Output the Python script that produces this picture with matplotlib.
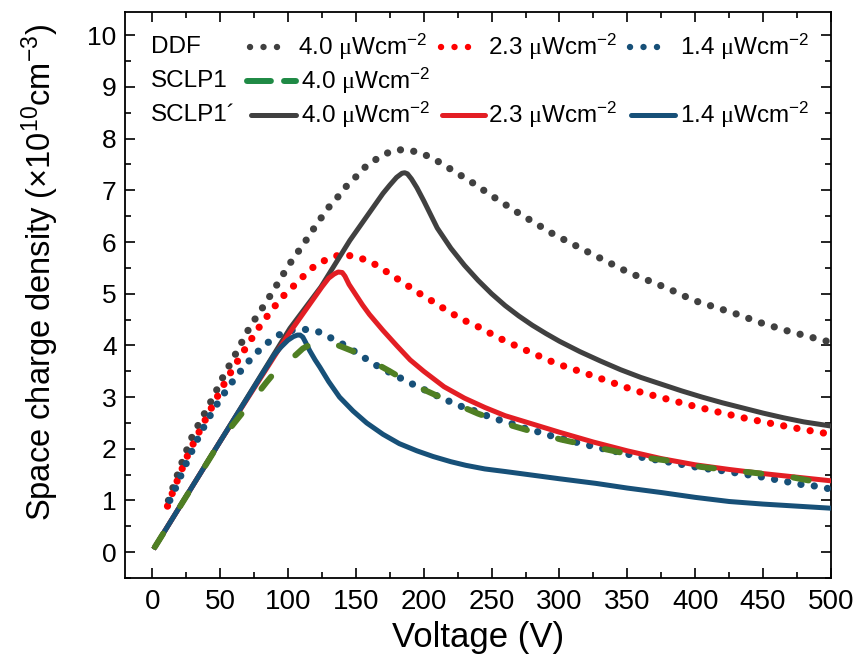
import matplotlib
matplotlib.use("Agg")
import matplotlib.pyplot as plt
from matplotlib.ticker import MultipleLocator

# --- data ---
ddf40_x = [12, 18, 24, 30, 37.5, 45, 52, 62, 72, 83.6, 94.6, 100, 112, 118, 124, 130, 137, 144,
           152, 159, 167, 176, 185, 196, 206, 215, 224, 233, 242, 251, 268, 295, 323, 351, 380,
           399, 429, 448, 468, 488, 500]
ddf40_y = [1.0, 1.45, 1.88, 2.27, 2.63, 3.0, 3.38, 3.86, 4.36, 4.82, 5.29, 5.53, 5.98, 6.22, 6.45,
           6.67, 6.88, 7.11, 7.31, 7.51, 7.63, 7.76, 7.79, 7.74, 7.63, 7.49, 7.34, 7.2, 7.04, 6.88,
           6.59, 6.16, 5.78, 5.41, 5.1, 4.87, 4.62, 4.44, 4.28, 4.14, 4.06]

ddf23_x = [11.3, 15, 18.6, 26.7, 36, 45.6, 55.4, 66.7, 78.2, 84.3, 90.4, 97.5, 105.4, 113, 120.6,
           130, 140, 149.8, 159.6, 168.9, 177.5, 186.3, 195.3, 204.2, 213.2, 222, 231, 241, 250,
           259.6, 278.4, 297.5, 317, 336.8, 356.4, 376.5, 396.8, 417, 437, 457.8, 478, 500]
ddf23_y = [0.89, 1.15, 1.39, 1.91, 2.4, 2.89, 3.37, 3.86, 4.33, 4.55, 4.76, 4.98, 5.18, 5.38, 5.56,
           5.68, 5.77, 5.71, 5.64, 5.49, 5.34, 5.19, 5.03, 4.89, 4.74, 4.6, 4.47, 4.35, 4.22, 4.09,
           3.87, 3.65, 3.48, 3.3, 3.12, 2.98, 2.84, 2.71, 2.59, 2.48, 2.38, 2.28]

ddf14_x = [13, 17.6, 21.8, 26, 30.4, 34.8, 39.7, 45, 50.7, 56.6, 63.2, 70, 77.4, 85, 93, 103, 112.5,
           122.8, 132, 141.4, 150.5, 159.3, 169, 178, 186.8, 197, 205.9, 215.4, 225.2, 235, 244.3,
           254, 264.5, 274, 284, 293.9, 324, 334, 365, 375, 406, 416.4, 450, 478, 488, 500]
ddf14_y = [1.0, 1.26, 1.52, 1.77, 2.02, 2.26, 2.5, 2.75, 2.98, 3.21, 3.44, 3.66, 3.87, 4.05, 4.2,
           4.29, 4.31, 4.26, 4.14, 4.01, 3.86, 3.71, 3.55, 3.44, 3.31, 3.19, 3.07, 2.96, 2.84, 2.76,
           2.66, 2.57, 2.49, 2.4, 2.33, 2.25, 2.05, 1.99, 1.81, 1.77, 1.62, 1.59, 1.45, 1.31, 1.28,
           1.22]

sclp40_x = [2, 50, 101.5, 124.3, 145.6, 170, 175, 180, 184, 186, 188, 191, 195, 200, 210, 220,
            230, 240, 250, 260, 270, 280, 290, 300, 315, 330, 345, 360, 375, 390, 405, 420, 435,
            450, 465, 480, 500]
sclp40_y = [0.1, 2.14, 4.33, 5.13, 6.03, 6.94, 7.1, 7.25, 7.33, 7.34, 7.32, 7.22, 7.05, 6.8,
            6.27, 5.88, 5.55, 5.26, 5.0, 4.77, 4.57, 4.39, 4.23, 4.08, 3.88, 3.7, 3.53, 3.38,
            3.25, 3.12, 3.0, 2.89, 2.79, 2.69, 2.6, 2.52, 2.44]

sclp23_x = [2, 50, 100, 125, 130, 134, 137, 140, 142, 145, 150, 155, 160, 170, 180, 190, 200,
            215, 230, 245, 260, 280, 300, 325, 350, 375, 400, 425, 450, 475, 500]
sclp23_y = [0.1, 2.14, 4.2, 5.13, 5.3, 5.38, 5.42, 5.41, 5.34, 5.18, 4.98, 4.78, 4.6, 4.29, 4.0,
            3.72, 3.5, 3.2, 2.98, 2.8, 2.64, 2.48, 2.32, 2.13, 1.96, 1.81, 1.69, 1.6, 1.52, 1.45,
            1.38]

sclp14_x = [2, 50, 90, 95, 100, 104, 107, 109, 111, 113, 116, 120, 123.5, 130, 138, 148, 158, 170,
            182, 195, 207, 220, 231, 245, 260, 280, 300, 327, 350, 376, 400, 425, 450, 475, 500]
sclp14_y = [0.1, 2.14, 3.82, 3.97, 4.1, 4.17, 4.2, 4.2, 4.16, 4.06, 3.9, 3.72, 3.58, 3.3, 3.0,
            2.73, 2.5, 2.28, 2.1, 1.96, 1.85, 1.75, 1.68, 1.61, 1.56, 1.49, 1.42, 1.33, 1.24, 1.15,
            1.06, 0.98, 0.93, 0.89, 0.85]

sclp1_x = [2, 28, 52, 73, 84.3, 90, 100, 106, 111, 116, 122, 128, 134, 140, 150.5, 162.7, 175,
           188.5, 202, 218, 240, 260.8, 279, 301, 320, 343, 362.5, 386, 404, 469, 489, 500]
sclp1_y = [0.1, 1.2, 2.22, 2.91, 3.29, 3.47, 3.69, 3.82, 3.94, 4.01, 4.05, 4.05, 4.03, 3.97, 3.86,
           3.68, 3.5, 3.29, 3.12, 2.93, 2.68, 2.48, 2.34, 2.18, 2.07, 1.94, 1.83, 1.75, 1.65, 1.46,
           1.36, 1.32]

label_rows = ["DDF", "SCLP1", "SCLP1\u00b4"]
intensities = ["4.0", "2.3", "1.4"]

grey = "#404040"
red_dot = "#ff0000"
red = "#e31e24"
blue = "#175078"
green = "#4f7f23"
green_leg = "#1f8a45"

plt.rcParams["font.family"] = ["Liberation Sans", "DejaVu Sans"]
plt.rcParams["mathtext.fontset"] = "custom"
plt.rcParams["mathtext.rm"] = "Liberation Serif"
plt.rcParams["mathtext.sf"] = "Liberation Sans"
plt.rcParams["mathtext.default"] = "sf"

fig = plt.figure(figsize=(8.57, 6.70), dpi=100)
ax = fig.add_axes([125 / 857, 1 - 578 / 670, 706 / 857, 566 / 670])

dot_lw = 5.2
dots = (0, (0.01, 1.85))
line_lw = 3.6

ax.plot(ddf40_x, ddf40_y, color=grey, lw=dot_lw, ls=dots, dash_capstyle="round", zorder=2)
ax.plot(ddf23_x, ddf23_y, color=red_dot, lw=dot_lw, ls=dots, dash_capstyle="round", zorder=3)
ax.plot(ddf14_x, ddf14_y, color=blue, lw=dot_lw, ls=dots, dash_capstyle="round", zorder=4)
ax.plot(sclp40_x, sclp40_y, color=grey, lw=line_lw, solid_joinstyle="round", zorder=5)
ax.plot(sclp23_x, sclp23_y, color=red, lw=line_lw, solid_joinstyle="round", zorder=6)
ax.plot(sclp14_x, sclp14_y, color=blue, lw=line_lw, solid_joinstyle="round", zorder=7)
ax.plot(sclp1_x, sclp1_y, color=green, lw=4.3, ls=(0, (2.6, 5.4)), dash_capstyle="round", zorder=8)

ax.set_xlim(-20, 500)
ax.set_ylim(-0.5, 10.45)
ax.xaxis.set_major_locator(MultipleLocator(50))
ax.xaxis.set_minor_locator(MultipleLocator(25))
ax.yaxis.set_major_locator(MultipleLocator(1))
ax.yaxis.set_minor_locator(MultipleLocator(0.5))
ax.tick_params(which="both", direction="in", top=True, right=True, width=1.2)
ax.tick_params(which="major", length=7)
ax.tick_params(which="minor", length=4)
ax.tick_params(axis="y", labelsize=19, pad=6)
ax.tick_params(axis="x", labelsize=20, pad=8)
for s in ax.spines.values():
    s.set_linewidth(1.3)

ax.set_xlabel("Voltage (V)", fontsize=25, labelpad=4)
ax.set_ylabel("Space charge density (\u00d710$^{10}$cm$^{-3}$)", fontsize=23.5)
ax.yaxis.set_label_coords(-0.09, 0.54)

# --- hand-built legend ---
def fx(px):
    return (px - 125) / 706

def fy(py):
    return (578 - py) / 566

leg_fs = 17.5
unit = r" $\mathrm{\mu}$Wcm$^{-2}$"
rows_y = [fy(47), fy(81), fy(115)]
for name, ry in zip(label_rows, rows_y):
    ax.text(fx(151), ry, name, transform=ax.transAxes, fontsize=leg_fs, va="center", ha="left")

# DDF row
for (x0, x1, tx), c, lab in zip([(250, 278, 298), (441, 469, 488), (630, 659, 680)],
                                [grey, red_dot, blue], intensities):
    ax.plot([fx(x0), fx(x1)], [rows_y[0]] * 2, transform=ax.transAxes, color=c, lw=4.6,
            ls=(0, (0.01, 2.1)), dash_capstyle="round", clip_on=False)
    ax.text(fx(tx), rows_y[0], lab + unit, transform=ax.transAxes, fontsize=leg_fs, va="center")

# SCLP1 row
ax.plot([fx(247), fx(296)], [rows_y[1]] * 2, transform=ax.transAxes, color=green_leg, lw=4.3,
        ls=(0, (4.0, 2.2)), dash_capstyle="round", clip_on=False)
ax.text(fx(301), rows_y[1], intensities[0] + unit, transform=ax.transAxes, fontsize=leg_fs,
        va="center")

# SCLP1' row
for (x0, x1, tx), c, lab in zip([(251, 296, 301), (442, 485, 488), (631, 675, 680)],
                                [grey, red, blue], intensities):
    ax.plot([fx(x0), fx(x1)], [rows_y[2]] * 2, transform=ax.transAxes, color=c, lw=line_lw,
            solid_capstyle="round", clip_on=False)
    ax.text(fx(tx), rows_y[2], lab + unit, transform=ax.transAxes, fontsize=leg_fs, va="center")

fig.savefig("out.png", dpi=100)
